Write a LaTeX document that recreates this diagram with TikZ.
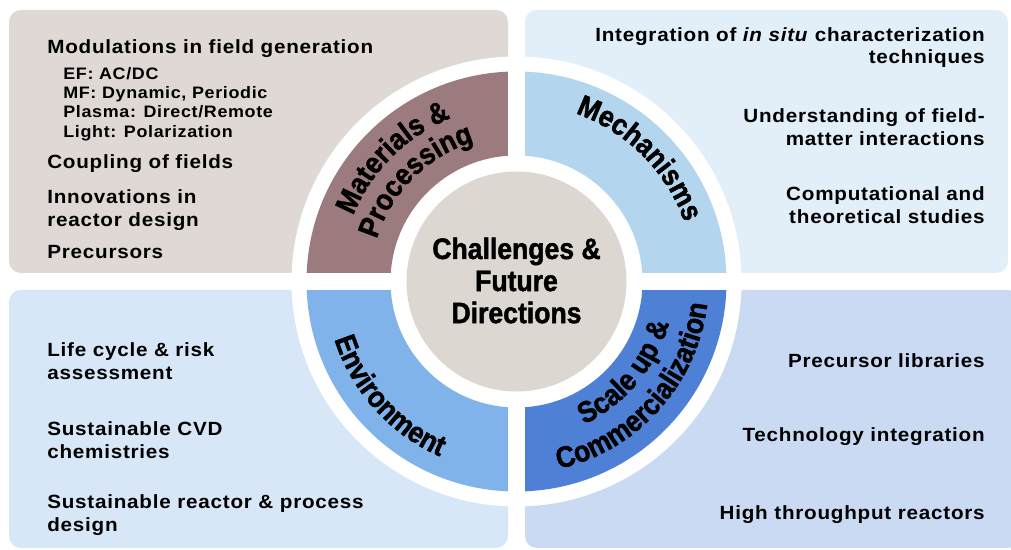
\documentclass[tikz,border=0pt]{standalone}
\usepackage{fontspec}
\usepackage{xcolor}
\setmainfont{Liberation Sans}[FakeStretch=1.08,LetterSpace=4]
\newfontfamily\secfont{Liberation Sans}[FakeStretch=0.9,FakeBold=1.5]
\newcommand\ringfont{\secfont\bfseries\fontsize{21}{22.8}\selectfont}
\usetikzlibrary{calc,decorations.text}

\begin{document}
\begin{tikzpicture}[x=0.025cm,y=0.025cm,
  panel/.style={rounded corners=8.5pt},
  item/.style={font=\bfseries\fontsize{13.6}{16}\selectfont,inner sep=0pt},
  lefttext/.style={item,align=left,anchor=west},
  righttext/.style={item,align=right,anchor=east},
  subtext/.style={font=\bfseries\fontsize{11.8}{13.8}\selectfont,inner sep=0pt,align=left,anchor=west},
  ringlabel/.style={decorate,decoration={text along path,text align=center,text={|\ringfont|#1}}}]
\definecolor{matpanel}{HTML}{DFD8D4}
\definecolor{mechpanel}{HTML}{E2EEF8}
\definecolor{envpanel}{HTML}{D8E7F8}
\definecolor{scalepanel}{HTML}{CADAF2}
\definecolor{matring}{HTML}{9C7B7E}
\definecolor{mechring}{HTML}{B3D5EE}
\definecolor{envring}{HTML}{80B3EA}
\definecolor{scalering}{HTML}{4E80D5}
\definecolor{hubgrey}{HTML}{DDD7D1}
\useasboundingbox (0,0) rectangle (1011,550);
\coordinate (hub) at (516.5,268.5);

% four panels
\fill[panel,matpanel] (9,277) rectangle (508,540);
\fill[panel,mechpanel] (525,277) rectangle (1008,540);
\fill[panel,envpanel] (9,2) rectangle (508,260);
\fill[panel,scalepanel] (525,2) rectangle (1020,260);

% ring of four quadrants on a white disc
\fill[white] (hub) circle[radius=225];
\foreach \a/\col in {0/mechring,90/matring,180/envring,270/scalering}
  \fill[\col] ($(hub)+(\a:210)$) arc[start angle=\a,end angle=\a+90,radius=210]
    -- ($(hub)+(\a+90:126)$) arc[start angle=\a+90,end angle=\a,radius=126] -- cycle;
\draw[white,line width=12.1pt] ($(hub)+(-226,0)$) -- ($(hub)+(226,0)$);
\draw[white,line width=12.1pt] ($(hub)+(0,-226)$) -- ($(hub)+(0,226)$);
\fill[hubgrey] (hub) circle[radius=110];
\node[align=center,font=\ringfont,inner sep=0pt] (title) at ($(hub)+(0,1)$) {Challenges \&\\Future\\Directions};

% curved labels
\path[ringlabel={Materials {\&}}] ($(hub)+(180:176)$) arc[start angle=180,end angle=90,radius=176];
\path[ringlabel={Processing}] ($(hub)+(180:146)$) arc[start angle=180,end angle=90,radius=146];
\path[ringlabel={Mechanisms}] ($(hub)+(90:178)$) arc[start angle=90,end angle=0,radius=178];
\path[ringlabel={Environment}] ($(hub)+(177:191)$) arc[start angle=177,end angle=267,radius=191];
\path[ringlabel={Scale up {\&}}] ($(hub)+(275:158)$) arc[start angle=275,end angle=365,radius=158];
\path[ringlabel={Commercialization}] ($(hub)+(273:192)$) arc[start angle=273,end angle=363,radius=192];

% materials & processing
\node[lefttext] (modul) at (47,501) {Modulations in field generation};
\node[subtext] (fields) at (63,446) {EF: AC/DC\\MF: Dynamic, Periodic\\Plasma: Direct/Remote\\Light: Polarization};
\node[lefttext] (coupl) at (47,386) {Coupling of fields};
\node[lefttext] (innov) at (47,340) {Innovations in\\reactor design};
\node[lefttext] (precs) at (47,298) {Precursors};

% mechanisms
\node[righttext] (insitu) at (985,502.5) {Integration of \textit{in situ} characterization\\techniques};
\node[righttext] (interact) at (985,423) {Understanding of field-\\matter interactions};
\node[righttext] (theory) at (985,345) {Computational and\\theoretical studies};

% environment
\node[lefttext] (lifecyc) at (47,189) {Life cycle \& risk\\assessment};
\node[lefttext] (cvdchem) at (47,110) {Sustainable CVD\\chemistries};
\node[lefttext] (process) at (47,35) {Sustainable reactor \& process\\design};

% scale up
\node[righttext] (library) at (985,189) {Precursor libraries};
\node[righttext] (techint) at (985,113) {Technology integration};
\node[righttext] (through) at (985,35) {High throughput reactors};
\end{tikzpicture}
\end{document}
